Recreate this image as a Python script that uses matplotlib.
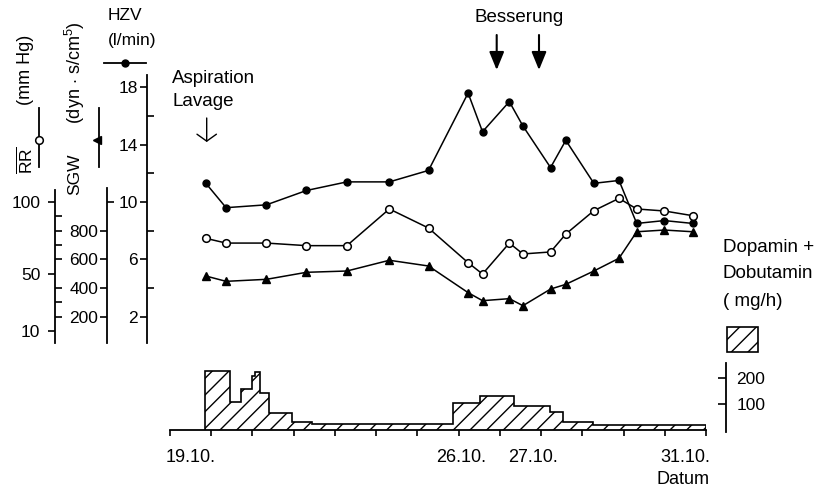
import matplotlib
matplotlib.use('Agg')
import matplotlib.pyplot as plt
from matplotlib.lines import Line2D
from matplotlib.patches import Rectangle

plt.rcParams['font.family'] = ['Liberation Sans', 'DejaVu Sans']
plt.rcParams['mathtext.fontset'] = 'custom'
plt.rcParams['mathtext.rm'] = 'Liberation Sans'
plt.rcParams['mathtext.it'] = 'Liberation Sans:italic'
plt.rcParams['hatch.linewidth'] = 1.0

W, H = 826, 494

# Messzeitpunkte in Strichen der Zeitachse (0..13)
t = [0.87, 1.36, 2.34, 3.31, 4.29, 5.32, 6.27, 7.23, 7.58, 8.23, 8.56,
     9.23, 9.60, 10.28, 10.89, 11.32, 11.99, 12.68]
hzv = [11.3, 9.6, 9.8, 10.8, 11.4, 11.4, 12.2, 17.6, 14.9, 17.0, 15.3,
       12.4, 14.3, 11.3, 11.5, 8.5, 8.7, 8.5]
rr = [74.6, 71.3, 71.3, 69.5, 69.5, 95.1, 81.8, 57.6, 49.7, 71.3, 63.7,
      65.1, 77.6, 93.9, 102.5, 95.1, 93.7, 90.4]
sgw = [483, 446, 460, 509, 518, 593, 553, 367, 311, 325, 276, 392, 425,
       518, 607, 792, 804, 792]

# Dopamin + Dobutamin (mg/h), Treppenfunktion
dose_edges = [0.85, 1.46, 1.72, 1.98, 2.06, 2.18, 2.41, 2.95, 3.44, 6.87,
              7.52, 8.34, 9.22, 9.54, 10.27, 13.0]
dose = [230, 109, 159, 211, 227, 142, 65, 31, 22, 103, 133, 93, 70, 28, 16]

date_labels = ['19.10.', '26.10.', '27.10.', '31.10.']
date_pos = [0.49, 7.06, 8.80, 12.49]

fig = plt.figure(figsize=(W / 100, H / 100), dpi=100)


def fx(px):
    return px / W


def fy(py):
    return 1 - py / H


top, bot = 75, 343.3
lim = (0.135, 18.86)

# Kurven
ax = fig.add_axes([fx(170), fy(bot), 536 / W, (bot - top) / H])
ax.set_xlim(0, 13)
ax.set_ylim(*lim)
ax.axis('off')
ax_rr = ax.twinx()
ax_rr.set_ylim(lim[0] * 10, lim[1] * 10)
ax_rr.axis('off')
ax_sgw = ax.twinx()
ax_sgw.set_ylim(lim[0] * 100, lim[1] * 100)
ax_sgw.axis('off')

ax.plot(t, hzv, color='black', lw=1.1, marker='o', ms=5, mfc='black')
ax_rr.plot(t, rr, color='black', lw=1.1, marker='o', ms=5.5, mfc='white',
           mew=1.1)
ax_sgw.plot(t, sgw, color='black', lw=1.1, marker='^', ms=5.5, mfc='black')


def skala(x_px, ylim, lo, hi, major, labels, minor, length, pad):
    a = fig.add_axes([fx(x_px), fy(bot), 0.5 / W, (bot - top) / H])
    a.set_ylim(*ylim)
    a.patch.set_visible(False)
    for s in ['top', 'right', 'bottom']:
        a.spines[s].set_visible(False)
    a.spines['left'].set_bounds(lo, hi)
    a.spines['left'].set_linewidth(1.3)
    a.set_xticks([])
    a.set_yticks(major, labels=labels)
    a.set_yticks(minor, minor=True)
    a.tick_params(which='major', direction='out', length=length, pad=pad,
                  width=1.2, labelsize=12.5)
    a.tick_params(which='minor', direction='in', length=5, width=1.2)
    return a


skala(55, (lim[0] * 10, lim[1] * 10), lim[0] * 10, 108.3,
      [10, 50, 100], ['10', '50', '100'],
      [20, 30, 40, 60, 70, 80, 90], 5, 5.5)
skala(107.3, (lim[0] * 100, lim[1] * 100), lim[0] * 100, 1095,
      [200, 400, 600, 800], ['200', '400', '600', '800'], [1000], 5, 1.5)
skala(146.7, lim, lim[0], lim[1],
      [2, 6, 10, 14, 18], ['2', '6', '10', '14', '18'], [4, 8, 12, 16], 5, 1.5)

# Dosis
hlim = (-9.8, 264.7)
ah = fig.add_axes([fx(170), fy(432), 536 / W, 70 / H])
ah.set_xlim(0, 13)
ah.set_ylim(*hlim)
ah.patch.set_visible(False)
ah.stairs(dose, dose_edges, fill=True, facecolor='white', edgecolor='black',
          hatch='//', lw=1.2)
for s in ['top', 'right', 'left']:
    ah.spines[s].set_visible(False)
ah.spines['bottom'].set_position(('data', 0))
ah.spines['bottom'].set_linewidth(1.3)
ah.set_yticks([])
ah.set_xticks(range(14), labels=[''] * 14)
ah.set_xticks(date_pos, labels=date_labels, minor=True)
ah.tick_params(axis='x', which='major', direction='out', length=4.3, width=1.2)
ah.tick_params(axis='x', which='minor', length=0, pad=14, labelsize=13)

ad = fig.add_axes([fx(726), fy(432), 0.5 / W, 70 / H])
ad.set_ylim(*hlim)
ad.patch.set_visible(False)
for s in ['top', 'right', 'bottom']:
    ad.spines[s].set_visible(False)
ad.spines['left'].set_bounds(-8.6, 260.8)
ad.spines['left'].set_linewidth(1.3)
ad.set_xticks([])
ad.set_yticks([100, 200], labels=['100', '200'])
ad.tick_params(axis='y', left=True, right=False, labelleft=False,
               labelright=True, direction='out', length=5.5, width=1.2,
               pad=1.5, labelsize=12.5)

fig.add_artist(Rectangle((fx(727), fy(352)), 31 / W, 25 / H,
                         transform=fig.transFigure, facecolor='white',
                         edgecolor='black', hatch='//', lw=1.2))

# Beschriftung
fs = 13.5
fig.text(fx(723), fy(248), 'Dopamin +', fontsize=fs, va='center')
fig.text(fx(723), fy(273), 'Dobutamin', fontsize=fs, va='center')
fig.text(fx(723), fy(301), '( mg/h)', fontsize=fs, va='center')
fig.text(fx(683), fy(479), 'Datum', fontsize=13, va='center', ha='center')
fig.text(fx(519), fy(18), 'Besserung', fontsize=fs, va='center', ha='center')
fig.text(fx(172), fy(78), 'Aspiration', fontsize=fs, va='center')
fig.text(fx(172), fy(101), 'Lavage', fontsize=fs, va='center')
fig.text(fx(108), fy(15), 'HZV', fontsize=12.5, va='center')
fig.text(fx(108), fy(40), '(l/min)', fontsize=12.5, va='center')

fig.text(fx(25), fy(160), r'$\overline{\mathrm{RR}}$', fontsize=12.5,
         rotation=90, va='center', ha='center')
fig.text(fx(25), fy(70), '(mm Hg)', fontsize=13, rotation=90,
         va='center', ha='center')
fig.text(fx(75), fy(174), 'SGW', fontsize=12.5, rotation=90,
         va='center', ha='center')
fig.text(fx(75), fy(73), r'(dyn $\cdot$ s/cm$^5$)', fontsize=13, rotation=90,
         va='center', ha='center')

# Legendenzeichen
fig.add_artist(Line2D([fx(39), fx(39)], [fy(108), fy(167)], color='black',
                      lw=1.3, transform=fig.transFigure))
fig.add_artist(Line2D([fx(39)], [fy(140)], marker='o', ms=5.5, mfc='white',
                      mec='black', mew=1.1, transform=fig.transFigure))
fig.add_artist(Line2D([fx(99), fx(99)], [fy(108), fy(167)], color='black',
                      lw=1.3, transform=fig.transFigure))
fig.add_artist(Line2D([fx(97)], [fy(140)], marker='<', ms=6, color='black',
                      transform=fig.transFigure))
fig.add_artist(Line2D([fx(104), fx(146)], [fy(63), fy(63)], color='black',
                      lw=1.3, transform=fig.transFigure))
fig.add_artist(Line2D([fx(125)], [fy(63)], marker='o', ms=5, color='black',
                      transform=fig.transFigure))

# Pfeile
ax.annotate('', xy=(206.7, H - 142), xytext=(206.7, H - 118),
            xycoords='figure pixels', textcoords='figure pixels',
            arrowprops=dict(arrowstyle='->, head_length=0.5, head_width=0.7',
                            lw=1, color='black', shrinkA=0, shrinkB=0,
                            mutation_scale=10))
for xa in [496.7, 539]:
    ax.annotate('', xy=(xa, H - 70), xytext=(xa, H - 35),
                xycoords='figure pixels', textcoords='figure pixels',
                arrowprops=dict(arrowstyle='-|>, head_length=1.1, head_width=0.45',
                                lw=1.5, color='black', shrinkA=0, shrinkB=0,
                                mutation_scale=10))

fig.savefig('out.png', dpi=100)
